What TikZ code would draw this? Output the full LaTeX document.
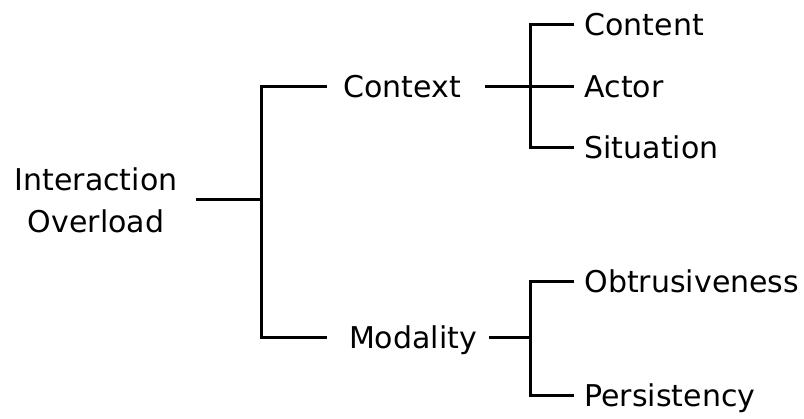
\documentclass[tikz,border=0pt]{standalone}
\usepackage{fontspec}
\setmainfont{DejaVu Sans}

\begin{document}
\begin{tikzpicture}[x=1pt,y=-1pt,line width=3pt]
\tikzstyle{every node}=[font=\fontsize{30}{42}\selectfont,inner sep=0pt];
\tikzstyle{label}=[text height=21pt,text depth=0pt];
\useasboundingbox (0,0) rectangle (804,419);
% root and the two branches
\node[align=center] (io) at (96,200) {Interaction\\Overload};
\node[label] (ctx) at (402,87) {Context};
\node[label] (mod) at (413,338) {Modality};
% leaves
\node[label,anchor=west] (cont) at (583,25) {Content};
\node[label,anchor=west] (act) at (583,87) {Actor};
\node[label,anchor=west] (sit) at (583,148) {Situation};
\node[label,anchor=west] (obt) at (583,282) {Obtrusiveness};
\node[label,anchor=west] (pers) at (583,396) {Persistency};
% joints
\coordinate (j0) at (261,200);
\coordinate (j1) at (530,87);
\coordinate (j2) at (530,338);
\draw ([xshift=17pt]io.east) -- (j0);
\draw ([xshift=-15pt]ctx.west) -| (j0) |- ([xshift=-21pt]mod.west);
\draw ([xshift=23pt]ctx.east) -- (j1);
\draw ([xshift=11pt]mod.east) -- (j2);
\draw ([xshift=-9pt]cont.west) -| (j1) |- ([xshift=-9pt]sit.west);
\draw (j1) -- ([xshift=-9pt]act.west);
\draw ([xshift=-9pt]obt.west) -| (j2) |- ([xshift=-9pt]pers.west);
\end{tikzpicture}
\end{document}
